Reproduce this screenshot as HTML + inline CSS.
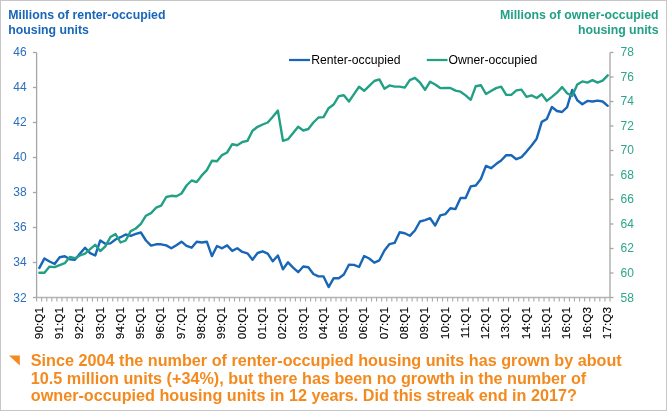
<!DOCTYPE html>
<html><head><meta charset="utf-8"><style>
html,body{margin:0;padding:0;background:#fff;}
body{width:667px;height:411px;overflow:hidden;position:relative;}
.frame{position:absolute;left:0;top:0;width:665px;height:409px;border:1px solid #c6c6c6;}
svg{position:absolute;left:0;top:0;will-change:transform;}
text{font-family:"Liberation Sans",sans-serif;}
.yl{font-size:12px;}
.xl{font-size:11.8px;fill:#000;stroke:#000;stroke-width:0.15px;}
.lg{font-size:12.2px;fill:#000;}
.tt{font-size:12.3px;font-weight:bold;}
.bt{font-size:16.2px;font-weight:bold;}
</style></head><body>
<div class="frame"></div>
<svg width="667" height="411" viewBox="0 0 667 411">
<line x1="36.6" y1="52.5" x2="36.6" y2="297.5" stroke="#a6a6a6" stroke-width="1.3"/>
<line x1="610.0" y1="52.5" x2="610.0" y2="297.5" stroke="#a6a6a6" stroke-width="1.3"/>
<line x1="36.6" y1="297.5" x2="610.0" y2="297.5" stroke="#b4b4b4" stroke-width="1.3"/>
<line x1="32.9" y1="297.5" x2="36.6" y2="297.5" stroke="#a6a6a6" stroke-width="1.3"/>
<text x="26.6" y="302.3" text-anchor="end" class="yl" fill="#2a6fbd">32</text>
<line x1="32.9" y1="262.5" x2="36.6" y2="262.5" stroke="#a6a6a6" stroke-width="1.3"/>
<text x="26.6" y="266.4" text-anchor="end" class="yl" fill="#2a6fbd">34</text>
<line x1="32.9" y1="227.5" x2="36.6" y2="227.5" stroke="#a6a6a6" stroke-width="1.3"/>
<text x="26.6" y="231.4" text-anchor="end" class="yl" fill="#2a6fbd">36</text>
<line x1="32.9" y1="192.5" x2="36.6" y2="192.5" stroke="#a6a6a6" stroke-width="1.3"/>
<text x="26.6" y="196.4" text-anchor="end" class="yl" fill="#2a6fbd">38</text>
<line x1="32.9" y1="157.5" x2="36.6" y2="157.5" stroke="#a6a6a6" stroke-width="1.3"/>
<text x="26.6" y="161.4" text-anchor="end" class="yl" fill="#2a6fbd">40</text>
<line x1="32.9" y1="122.5" x2="36.6" y2="122.5" stroke="#a6a6a6" stroke-width="1.3"/>
<text x="26.6" y="126.4" text-anchor="end" class="yl" fill="#2a6fbd">42</text>
<line x1="32.9" y1="87.5" x2="36.6" y2="87.5" stroke="#a6a6a6" stroke-width="1.3"/>
<text x="26.6" y="91.4" text-anchor="end" class="yl" fill="#2a6fbd">44</text>
<line x1="32.9" y1="52.5" x2="36.6" y2="52.5" stroke="#a6a6a6" stroke-width="1.3"/>
<text x="26.6" y="56.4" text-anchor="end" class="yl" fill="#2a6fbd">46</text>
<line x1="610.0" y1="297.5" x2="613.5" y2="297.5" stroke="#a6a6a6" stroke-width="1.3"/>
<text x="620.5" y="302.2" class="yl" fill="#2ca58a">58</text>
<line x1="610.0" y1="273.0" x2="613.5" y2="273.0" stroke="#a6a6a6" stroke-width="1.3"/>
<text x="620.5" y="276.8" class="yl" fill="#2ca58a">60</text>
<line x1="610.0" y1="248.5" x2="613.5" y2="248.5" stroke="#a6a6a6" stroke-width="1.3"/>
<text x="620.5" y="252.3" class="yl" fill="#2ca58a">62</text>
<line x1="610.0" y1="224.0" x2="613.5" y2="224.0" stroke="#a6a6a6" stroke-width="1.3"/>
<text x="620.5" y="227.8" class="yl" fill="#2ca58a">64</text>
<line x1="610.0" y1="199.5" x2="613.5" y2="199.5" stroke="#a6a6a6" stroke-width="1.3"/>
<text x="620.5" y="203.3" class="yl" fill="#2ca58a">66</text>
<line x1="610.0" y1="175.0" x2="613.5" y2="175.0" stroke="#a6a6a6" stroke-width="1.3"/>
<text x="620.5" y="178.8" class="yl" fill="#2ca58a">68</text>
<line x1="610.0" y1="150.5" x2="613.5" y2="150.5" stroke="#a6a6a6" stroke-width="1.3"/>
<text x="620.5" y="154.3" class="yl" fill="#2ca58a">70</text>
<line x1="610.0" y1="126.0" x2="613.5" y2="126.0" stroke="#a6a6a6" stroke-width="1.3"/>
<text x="620.5" y="129.8" class="yl" fill="#2ca58a">72</text>
<line x1="610.0" y1="101.5" x2="613.5" y2="101.5" stroke="#a6a6a6" stroke-width="1.3"/>
<text x="620.5" y="105.3" class="yl" fill="#2ca58a">74</text>
<line x1="610.0" y1="77.0" x2="613.5" y2="77.0" stroke="#a6a6a6" stroke-width="1.3"/>
<text x="620.5" y="80.8" class="yl" fill="#2ca58a">76</text>
<line x1="610.0" y1="52.5" x2="613.5" y2="52.5" stroke="#a6a6a6" stroke-width="1.3"/>
<text x="620.5" y="56.3" class="yl" fill="#2ca58a">78</text>
<line x1="36.60" y1="297.5" x2="36.60" y2="301.5" stroke="#a8a8a8" stroke-width="1.1"/>
<line x1="41.67" y1="297.5" x2="41.67" y2="301.5" stroke="#a8a8a8" stroke-width="1.1"/>
<line x1="46.75" y1="297.5" x2="46.75" y2="301.5" stroke="#a8a8a8" stroke-width="1.1"/>
<line x1="51.82" y1="297.5" x2="51.82" y2="301.5" stroke="#a8a8a8" stroke-width="1.1"/>
<line x1="56.90" y1="297.5" x2="56.90" y2="301.5" stroke="#a8a8a8" stroke-width="1.1"/>
<line x1="61.97" y1="297.5" x2="61.97" y2="301.5" stroke="#a8a8a8" stroke-width="1.1"/>
<line x1="67.05" y1="297.5" x2="67.05" y2="301.5" stroke="#a8a8a8" stroke-width="1.1"/>
<line x1="72.12" y1="297.5" x2="72.12" y2="301.5" stroke="#a8a8a8" stroke-width="1.1"/>
<line x1="77.19" y1="297.5" x2="77.19" y2="301.5" stroke="#a8a8a8" stroke-width="1.1"/>
<line x1="82.27" y1="297.5" x2="82.27" y2="301.5" stroke="#a8a8a8" stroke-width="1.1"/>
<line x1="87.34" y1="297.5" x2="87.34" y2="301.5" stroke="#a8a8a8" stroke-width="1.1"/>
<line x1="92.42" y1="297.5" x2="92.42" y2="301.5" stroke="#a8a8a8" stroke-width="1.1"/>
<line x1="97.49" y1="297.5" x2="97.49" y2="301.5" stroke="#a8a8a8" stroke-width="1.1"/>
<line x1="102.57" y1="297.5" x2="102.57" y2="301.5" stroke="#a8a8a8" stroke-width="1.1"/>
<line x1="107.64" y1="297.5" x2="107.64" y2="301.5" stroke="#a8a8a8" stroke-width="1.1"/>
<line x1="112.72" y1="297.5" x2="112.72" y2="301.5" stroke="#a8a8a8" stroke-width="1.1"/>
<line x1="117.79" y1="297.5" x2="117.79" y2="301.5" stroke="#a8a8a8" stroke-width="1.1"/>
<line x1="122.86" y1="297.5" x2="122.86" y2="301.5" stroke="#a8a8a8" stroke-width="1.1"/>
<line x1="127.94" y1="297.5" x2="127.94" y2="301.5" stroke="#a8a8a8" stroke-width="1.1"/>
<line x1="133.01" y1="297.5" x2="133.01" y2="301.5" stroke="#a8a8a8" stroke-width="1.1"/>
<line x1="138.09" y1="297.5" x2="138.09" y2="301.5" stroke="#a8a8a8" stroke-width="1.1"/>
<line x1="143.16" y1="297.5" x2="143.16" y2="301.5" stroke="#a8a8a8" stroke-width="1.1"/>
<line x1="148.24" y1="297.5" x2="148.24" y2="301.5" stroke="#a8a8a8" stroke-width="1.1"/>
<line x1="153.31" y1="297.5" x2="153.31" y2="301.5" stroke="#a8a8a8" stroke-width="1.1"/>
<line x1="158.38" y1="297.5" x2="158.38" y2="301.5" stroke="#a8a8a8" stroke-width="1.1"/>
<line x1="163.46" y1="297.5" x2="163.46" y2="301.5" stroke="#a8a8a8" stroke-width="1.1"/>
<line x1="168.53" y1="297.5" x2="168.53" y2="301.5" stroke="#a8a8a8" stroke-width="1.1"/>
<line x1="173.61" y1="297.5" x2="173.61" y2="301.5" stroke="#a8a8a8" stroke-width="1.1"/>
<line x1="178.68" y1="297.5" x2="178.68" y2="301.5" stroke="#a8a8a8" stroke-width="1.1"/>
<line x1="183.76" y1="297.5" x2="183.76" y2="301.5" stroke="#a8a8a8" stroke-width="1.1"/>
<line x1="188.83" y1="297.5" x2="188.83" y2="301.5" stroke="#a8a8a8" stroke-width="1.1"/>
<line x1="193.90" y1="297.5" x2="193.90" y2="301.5" stroke="#a8a8a8" stroke-width="1.1"/>
<line x1="198.98" y1="297.5" x2="198.98" y2="301.5" stroke="#a8a8a8" stroke-width="1.1"/>
<line x1="204.05" y1="297.5" x2="204.05" y2="301.5" stroke="#a8a8a8" stroke-width="1.1"/>
<line x1="209.13" y1="297.5" x2="209.13" y2="301.5" stroke="#a8a8a8" stroke-width="1.1"/>
<line x1="214.20" y1="297.5" x2="214.20" y2="301.5" stroke="#a8a8a8" stroke-width="1.1"/>
<line x1="219.28" y1="297.5" x2="219.28" y2="301.5" stroke="#a8a8a8" stroke-width="1.1"/>
<line x1="224.35" y1="297.5" x2="224.35" y2="301.5" stroke="#a8a8a8" stroke-width="1.1"/>
<line x1="229.42" y1="297.5" x2="229.42" y2="301.5" stroke="#a8a8a8" stroke-width="1.1"/>
<line x1="234.50" y1="297.5" x2="234.50" y2="301.5" stroke="#a8a8a8" stroke-width="1.1"/>
<line x1="239.57" y1="297.5" x2="239.57" y2="301.5" stroke="#a8a8a8" stroke-width="1.1"/>
<line x1="244.65" y1="297.5" x2="244.65" y2="301.5" stroke="#a8a8a8" stroke-width="1.1"/>
<line x1="249.72" y1="297.5" x2="249.72" y2="301.5" stroke="#a8a8a8" stroke-width="1.1"/>
<line x1="254.80" y1="297.5" x2="254.80" y2="301.5" stroke="#a8a8a8" stroke-width="1.1"/>
<line x1="259.87" y1="297.5" x2="259.87" y2="301.5" stroke="#a8a8a8" stroke-width="1.1"/>
<line x1="264.95" y1="297.5" x2="264.95" y2="301.5" stroke="#a8a8a8" stroke-width="1.1"/>
<line x1="270.02" y1="297.5" x2="270.02" y2="301.5" stroke="#a8a8a8" stroke-width="1.1"/>
<line x1="275.09" y1="297.5" x2="275.09" y2="301.5" stroke="#a8a8a8" stroke-width="1.1"/>
<line x1="280.17" y1="297.5" x2="280.17" y2="301.5" stroke="#a8a8a8" stroke-width="1.1"/>
<line x1="285.24" y1="297.5" x2="285.24" y2="301.5" stroke="#a8a8a8" stroke-width="1.1"/>
<line x1="290.32" y1="297.5" x2="290.32" y2="301.5" stroke="#a8a8a8" stroke-width="1.1"/>
<line x1="295.39" y1="297.5" x2="295.39" y2="301.5" stroke="#a8a8a8" stroke-width="1.1"/>
<line x1="300.47" y1="297.5" x2="300.47" y2="301.5" stroke="#a8a8a8" stroke-width="1.1"/>
<line x1="305.54" y1="297.5" x2="305.54" y2="301.5" stroke="#a8a8a8" stroke-width="1.1"/>
<line x1="310.61" y1="297.5" x2="310.61" y2="301.5" stroke="#a8a8a8" stroke-width="1.1"/>
<line x1="315.69" y1="297.5" x2="315.69" y2="301.5" stroke="#a8a8a8" stroke-width="1.1"/>
<line x1="320.76" y1="297.5" x2="320.76" y2="301.5" stroke="#a8a8a8" stroke-width="1.1"/>
<line x1="325.84" y1="297.5" x2="325.84" y2="301.5" stroke="#a8a8a8" stroke-width="1.1"/>
<line x1="330.91" y1="297.5" x2="330.91" y2="301.5" stroke="#a8a8a8" stroke-width="1.1"/>
<line x1="335.99" y1="297.5" x2="335.99" y2="301.5" stroke="#a8a8a8" stroke-width="1.1"/>
<line x1="341.06" y1="297.5" x2="341.06" y2="301.5" stroke="#a8a8a8" stroke-width="1.1"/>
<line x1="346.13" y1="297.5" x2="346.13" y2="301.5" stroke="#a8a8a8" stroke-width="1.1"/>
<line x1="351.21" y1="297.5" x2="351.21" y2="301.5" stroke="#a8a8a8" stroke-width="1.1"/>
<line x1="356.28" y1="297.5" x2="356.28" y2="301.5" stroke="#a8a8a8" stroke-width="1.1"/>
<line x1="361.36" y1="297.5" x2="361.36" y2="301.5" stroke="#a8a8a8" stroke-width="1.1"/>
<line x1="366.43" y1="297.5" x2="366.43" y2="301.5" stroke="#a8a8a8" stroke-width="1.1"/>
<line x1="371.51" y1="297.5" x2="371.51" y2="301.5" stroke="#a8a8a8" stroke-width="1.1"/>
<line x1="376.58" y1="297.5" x2="376.58" y2="301.5" stroke="#a8a8a8" stroke-width="1.1"/>
<line x1="381.65" y1="297.5" x2="381.65" y2="301.5" stroke="#a8a8a8" stroke-width="1.1"/>
<line x1="386.73" y1="297.5" x2="386.73" y2="301.5" stroke="#a8a8a8" stroke-width="1.1"/>
<line x1="391.80" y1="297.5" x2="391.80" y2="301.5" stroke="#a8a8a8" stroke-width="1.1"/>
<line x1="396.88" y1="297.5" x2="396.88" y2="301.5" stroke="#a8a8a8" stroke-width="1.1"/>
<line x1="401.95" y1="297.5" x2="401.95" y2="301.5" stroke="#a8a8a8" stroke-width="1.1"/>
<line x1="407.03" y1="297.5" x2="407.03" y2="301.5" stroke="#a8a8a8" stroke-width="1.1"/>
<line x1="412.10" y1="297.5" x2="412.10" y2="301.5" stroke="#a8a8a8" stroke-width="1.1"/>
<line x1="417.18" y1="297.5" x2="417.18" y2="301.5" stroke="#a8a8a8" stroke-width="1.1"/>
<line x1="422.25" y1="297.5" x2="422.25" y2="301.5" stroke="#a8a8a8" stroke-width="1.1"/>
<line x1="427.32" y1="297.5" x2="427.32" y2="301.5" stroke="#a8a8a8" stroke-width="1.1"/>
<line x1="432.40" y1="297.5" x2="432.40" y2="301.5" stroke="#a8a8a8" stroke-width="1.1"/>
<line x1="437.47" y1="297.5" x2="437.47" y2="301.5" stroke="#a8a8a8" stroke-width="1.1"/>
<line x1="442.55" y1="297.5" x2="442.55" y2="301.5" stroke="#a8a8a8" stroke-width="1.1"/>
<line x1="447.62" y1="297.5" x2="447.62" y2="301.5" stroke="#a8a8a8" stroke-width="1.1"/>
<line x1="452.70" y1="297.5" x2="452.70" y2="301.5" stroke="#a8a8a8" stroke-width="1.1"/>
<line x1="457.77" y1="297.5" x2="457.77" y2="301.5" stroke="#a8a8a8" stroke-width="1.1"/>
<line x1="462.84" y1="297.5" x2="462.84" y2="301.5" stroke="#a8a8a8" stroke-width="1.1"/>
<line x1="467.92" y1="297.5" x2="467.92" y2="301.5" stroke="#a8a8a8" stroke-width="1.1"/>
<line x1="472.99" y1="297.5" x2="472.99" y2="301.5" stroke="#a8a8a8" stroke-width="1.1"/>
<line x1="478.07" y1="297.5" x2="478.07" y2="301.5" stroke="#a8a8a8" stroke-width="1.1"/>
<line x1="483.14" y1="297.5" x2="483.14" y2="301.5" stroke="#a8a8a8" stroke-width="1.1"/>
<line x1="488.22" y1="297.5" x2="488.22" y2="301.5" stroke="#a8a8a8" stroke-width="1.1"/>
<line x1="493.29" y1="297.5" x2="493.29" y2="301.5" stroke="#a8a8a8" stroke-width="1.1"/>
<line x1="498.36" y1="297.5" x2="498.36" y2="301.5" stroke="#a8a8a8" stroke-width="1.1"/>
<line x1="503.44" y1="297.5" x2="503.44" y2="301.5" stroke="#a8a8a8" stroke-width="1.1"/>
<line x1="508.51" y1="297.5" x2="508.51" y2="301.5" stroke="#a8a8a8" stroke-width="1.1"/>
<line x1="513.59" y1="297.5" x2="513.59" y2="301.5" stroke="#a8a8a8" stroke-width="1.1"/>
<line x1="518.66" y1="297.5" x2="518.66" y2="301.5" stroke="#a8a8a8" stroke-width="1.1"/>
<line x1="523.74" y1="297.5" x2="523.74" y2="301.5" stroke="#a8a8a8" stroke-width="1.1"/>
<line x1="528.81" y1="297.5" x2="528.81" y2="301.5" stroke="#a8a8a8" stroke-width="1.1"/>
<line x1="533.88" y1="297.5" x2="533.88" y2="301.5" stroke="#a8a8a8" stroke-width="1.1"/>
<line x1="538.96" y1="297.5" x2="538.96" y2="301.5" stroke="#a8a8a8" stroke-width="1.1"/>
<line x1="544.03" y1="297.5" x2="544.03" y2="301.5" stroke="#a8a8a8" stroke-width="1.1"/>
<line x1="549.11" y1="297.5" x2="549.11" y2="301.5" stroke="#a8a8a8" stroke-width="1.1"/>
<line x1="554.18" y1="297.5" x2="554.18" y2="301.5" stroke="#a8a8a8" stroke-width="1.1"/>
<line x1="559.26" y1="297.5" x2="559.26" y2="301.5" stroke="#a8a8a8" stroke-width="1.1"/>
<line x1="564.33" y1="297.5" x2="564.33" y2="301.5" stroke="#a8a8a8" stroke-width="1.1"/>
<line x1="569.41" y1="297.5" x2="569.41" y2="301.5" stroke="#a8a8a8" stroke-width="1.1"/>
<line x1="574.48" y1="297.5" x2="574.48" y2="301.5" stroke="#a8a8a8" stroke-width="1.1"/>
<line x1="579.55" y1="297.5" x2="579.55" y2="301.5" stroke="#a8a8a8" stroke-width="1.1"/>
<line x1="584.63" y1="297.5" x2="584.63" y2="301.5" stroke="#a8a8a8" stroke-width="1.1"/>
<line x1="589.70" y1="297.5" x2="589.70" y2="301.5" stroke="#a8a8a8" stroke-width="1.1"/>
<line x1="594.78" y1="297.5" x2="594.78" y2="301.5" stroke="#a8a8a8" stroke-width="1.1"/>
<line x1="599.85" y1="297.5" x2="599.85" y2="301.5" stroke="#a8a8a8" stroke-width="1.1"/>
<line x1="604.93" y1="297.5" x2="604.93" y2="301.5" stroke="#a8a8a8" stroke-width="1.1"/>
<line x1="610.00" y1="297.5" x2="610.00" y2="301.5" stroke="#a8a8a8" stroke-width="1.1"/>
<text transform="translate(42.64,307.0) rotate(-90)" text-anchor="end" class="xl">90:Q1</text>
<text transform="translate(62.93,307.0) rotate(-90)" text-anchor="end" class="xl">91:Q1</text>
<text transform="translate(83.23,307.0) rotate(-90)" text-anchor="end" class="xl">92:Q1</text>
<text transform="translate(103.53,307.0) rotate(-90)" text-anchor="end" class="xl">93:Q1</text>
<text transform="translate(123.83,307.0) rotate(-90)" text-anchor="end" class="xl">94:Q1</text>
<text transform="translate(144.12,307.0) rotate(-90)" text-anchor="end" class="xl">95:Q1</text>
<text transform="translate(164.42,307.0) rotate(-90)" text-anchor="end" class="xl">96:Q1</text>
<text transform="translate(184.72,307.0) rotate(-90)" text-anchor="end" class="xl">97:Q1</text>
<text transform="translate(205.02,307.0) rotate(-90)" text-anchor="end" class="xl">98:Q1</text>
<text transform="translate(225.31,307.0) rotate(-90)" text-anchor="end" class="xl">99:Q1</text>
<text transform="translate(245.61,307.0) rotate(-90)" text-anchor="end" class="xl">00:Q1</text>
<text transform="translate(265.91,307.0) rotate(-90)" text-anchor="end" class="xl">01:Q1</text>
<text transform="translate(286.21,307.0) rotate(-90)" text-anchor="end" class="xl">02:Q1</text>
<text transform="translate(306.50,307.0) rotate(-90)" text-anchor="end" class="xl">03:Q1</text>
<text transform="translate(326.80,307.0) rotate(-90)" text-anchor="end" class="xl">04:Q1</text>
<text transform="translate(347.10,307.0) rotate(-90)" text-anchor="end" class="xl">05:Q1</text>
<text transform="translate(367.39,307.0) rotate(-90)" text-anchor="end" class="xl">06:Q1</text>
<text transform="translate(387.69,307.0) rotate(-90)" text-anchor="end" class="xl">07:Q1</text>
<text transform="translate(407.99,307.0) rotate(-90)" text-anchor="end" class="xl">08:Q1</text>
<text transform="translate(428.29,307.0) rotate(-90)" text-anchor="end" class="xl">09:Q1</text>
<text transform="translate(448.58,307.0) rotate(-90)" text-anchor="end" class="xl">10:Q1</text>
<text transform="translate(468.88,307.0) rotate(-90)" text-anchor="end" class="xl">11:Q1</text>
<text transform="translate(489.18,307.0) rotate(-90)" text-anchor="end" class="xl">12:Q1</text>
<text transform="translate(509.48,307.0) rotate(-90)" text-anchor="end" class="xl">13:Q1</text>
<text transform="translate(529.77,307.0) rotate(-90)" text-anchor="end" class="xl">14:Q1</text>
<text transform="translate(550.07,307.0) rotate(-90)" text-anchor="end" class="xl">15:Q1</text>
<text transform="translate(570.37,307.0) rotate(-90)" text-anchor="end" class="xl">16:Q1</text>
<text transform="translate(590.67,307.0) rotate(-90)" text-anchor="end" class="xl">16:Q3</text>
<text transform="translate(610.96,307.0) rotate(-90)" text-anchor="end" class="xl">17:Q3</text>
<polyline points="39.39,267.90 44.46,258.40 49.54,261.50 54.61,264.00 59.68,257.20 64.76,256.20 69.83,259.30 74.91,259.80 79.98,253.60 85.06,247.70 90.13,253.10 95.20,255.50 100.28,240.40 105.35,243.80 110.43,243.40 115.50,239.50 120.58,237.20 125.65,234.50 130.73,235.80 135.80,233.80 140.87,232.50 145.95,240.50 151.02,245.60 156.10,244.30 161.17,244.30 166.25,245.40 171.32,248.30 176.39,245.20 181.47,241.70 186.54,245.90 191.62,247.70 196.69,241.70 201.77,242.50 206.84,241.70 211.91,256.10 216.99,246.00 222.06,248.30 227.14,245.40 232.21,250.90 237.29,248.30 242.36,251.90 247.43,253.30 252.51,259.70 257.58,253.00 262.66,251.30 267.73,253.60 272.81,261.30 277.88,255.50 282.96,269.30 288.03,262.30 293.10,267.60 298.18,272.20 303.25,266.50 308.33,267.20 313.40,274.00 318.48,276.40 323.55,276.40 328.62,287.10 333.70,278.20 338.77,278.30 343.85,274.50 348.92,264.80 354.00,264.90 359.07,267.00 364.14,256.00 369.22,258.50 374.29,262.70 379.37,260.30 384.44,250.50 389.52,244.10 394.59,242.90 399.67,232.20 404.74,233.20 409.81,235.80 414.89,230.50 419.96,221.50 425.04,220.20 430.11,218.20 435.19,225.50 440.26,215.40 445.33,214.10 450.41,208.20 455.48,209.10 460.56,198.00 465.63,198.00 470.71,186.40 475.78,185.50 480.85,179.00 485.93,165.90 491.00,168.20 496.08,164.10 501.15,160.50 506.23,155.20 511.30,155.20 516.37,159.20 521.45,157.20 526.52,151.60 531.60,145.50 536.67,138.70 541.75,121.90 546.82,119.00 551.90,107.00 556.97,111.00 562.04,112.00 567.12,107.20 572.19,90.00 577.27,100.30 582.34,104.30 587.42,100.90 592.49,101.50 597.56,100.60 602.64,101.50 607.71,105.80" fill="none" stroke="#1866b8" stroke-width="2.4" stroke-linejoin="round" stroke-linecap="round"/>
<polyline points="39.39,272.80 44.46,272.80 49.54,266.60 54.61,267.10 59.68,265.20 64.76,263.20 69.83,256.90 74.91,258.20 79.98,255.50 85.06,253.60 90.13,249.20 95.20,244.80 100.28,251.10 105.35,246.30 110.43,237.00 115.50,234.10 120.58,242.50 125.65,240.50 130.73,231.10 135.80,228.50 140.87,223.80 145.95,215.70 151.02,213.10 156.10,207.70 161.17,205.70 166.25,197.00 171.32,195.80 176.39,196.20 181.47,193.50 186.54,185.50 191.62,180.50 196.69,182.10 201.77,175.40 206.84,170.10 211.91,160.80 216.99,161.30 222.06,155.10 227.14,152.50 232.21,144.20 237.29,145.20 242.36,142.00 247.43,140.90 252.51,130.80 257.58,126.80 262.66,124.50 267.73,122.50 272.81,116.80 277.88,110.60 282.96,140.80 288.03,139.20 293.10,133.10 298.18,126.70 303.25,130.50 308.33,129.00 313.40,122.50 318.48,117.50 323.55,117.10 328.62,108.20 333.70,104.50 338.77,96.10 343.85,95.20 348.92,101.50 354.00,94.10 359.07,86.80 364.14,90.80 369.22,85.90 374.29,81.00 379.37,79.40 384.44,88.80 389.52,85.40 394.59,86.60 399.67,86.60 404.74,87.60 409.81,80.10 414.89,77.80 419.96,82.50 425.04,89.80 430.11,81.70 435.19,84.50 440.26,88.10 445.33,88.00 450.41,88.00 455.48,90.60 460.56,91.70 465.63,95.40 470.71,99.80 475.78,86.20 480.85,85.20 485.93,94.00 491.00,91.00 496.08,88.10 501.15,86.70 506.23,94.90 511.30,94.90 516.37,90.40 521.45,89.60 526.52,96.90 531.60,95.40 536.67,98.00 541.75,94.30 546.82,100.90 551.90,96.90 556.97,92.70 562.04,87.10 567.12,93.20 572.19,96.00 577.27,84.50 582.34,81.40 587.42,82.60 592.49,80.20 597.56,82.60 602.64,80.60 607.71,75.30" fill="none" stroke="#22a085" stroke-width="2.4" stroke-linejoin="round" stroke-linecap="round"/>
<line x1="289" y1="60" x2="310" y2="60" stroke="#1866b8" stroke-width="2.25"/>
<text x="311.2" y="64.2" class="lg">Renter-occupied</text>
<line x1="426.8" y1="60" x2="447.5" y2="60" stroke="#22a085" stroke-width="2.25"/>
<text x="448.5" y="64.2" class="lg">Owner-occupied</text>
<text x="8.3" y="19.2" class="tt" fill="#1866b8">Millions of renter-occupied</text>
<text x="8.3" y="33.5" class="tt" fill="#1866b8">housing units</text>
<text x="658.5" y="19.2" class="tt" text-anchor="end" fill="#22a085">Millions of owner-occupied</text>
<text x="658.5" y="33.5" class="tt" text-anchor="end" fill="#22a085">housing units</text>
<polygon points="9,355.5 19.8,355.5 19.8,365.5" fill="#f48a1e"/>
<text x="30.8" y="366.40" class="bt" fill="#f48a1e">Since 2004 the number of renter-occupied housing units has grown by about</text>
<text x="30.8" y="383.65" class="bt" fill="#f48a1e">10.5 million units (+34%), but there has been no growth in the number of</text>
<text x="30.8" y="400.90" class="bt" fill="#f48a1e">owner-occupied housing units in 12 years. Did this streak end in 2017?</text>
</svg>
</body></html>
